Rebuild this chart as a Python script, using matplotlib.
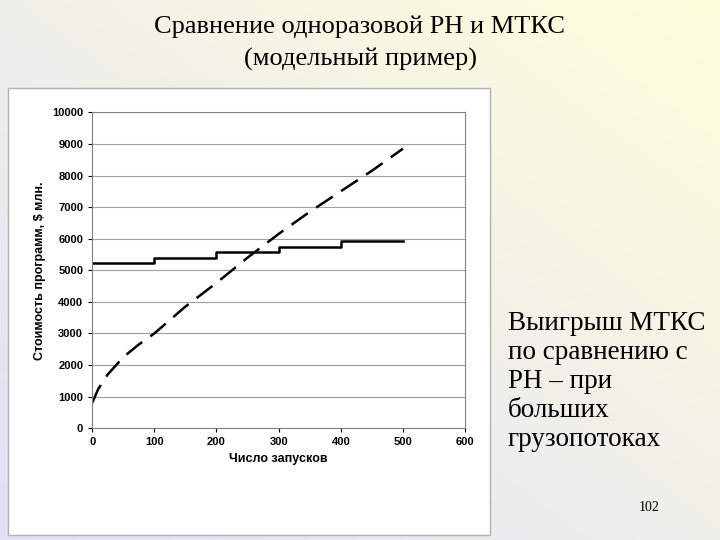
import numpy as np
import matplotlib.pyplot as plt
from matplotlib.patches import Rectangle

# step curve: reusable launch vehicle system (МТКС)
step_x = [0, 100, 100, 200, 200, 300, 300, 400, 400, 500]
step_y = [5220, 5220, 5400, 5400, 5580, 5580, 5750, 5750, 5930, 5930]
# dashed curve: expendable rocket (РН)
dash_x = [0, 10, 25, 50, 75, 100, 150, 200, 250, 300, 350, 400, 450, 500]
dash_y = [800, 1250, 1700, 2250, 2650, 3000, 3850, 4600, 5400, 6150, 6850, 7500, 8150, 8850]

fig = plt.figure(figsize=(7.2, 5.4), dpi=100)

# slide background gradient
bg = fig.add_axes([0, 0, 1, 1])
gx, gy = np.meshgrid(np.linspace(0, 1, 200), np.linspace(0, 1, 200))
t = np.clip((gx + (1 - gy)) / 2, 0, 1)[..., None]
c1 = np.array([0.88, 0.88, 0.97])
c2 = np.array([1.0, 1.0, 0.86])
bg.imshow(c1 * (1 - t) + c2 * t, extent=[0, 1, 0, 1], aspect='auto', origin='upper')
bg.set_xlim(0, 1); bg.set_ylim(0, 1)
bg.axis('off')
bg.add_patch(Rectangle((0.011, 0.009), 0.669, 0.828, facecolor='white',
                       edgecolor='#b0b0b0', lw=1))

fig.text(0.5, 0.972, 'Сравнение одноразовой РН и МТКС', ha='center', va='top',
         family='Liberation Serif', fontsize=19)
fig.text(0.5, 0.912, '(модельный пример)', ha='center', va='top',
         family='Liberation Serif', fontsize=19)
fig.text(0.705, 0.425, 'Выигрыш МТКС\nпо сравнению с\nРН – при\nбольших\nгрузопотоках',
         ha='left', va='top', family='Liberation Serif', fontsize=19.5, linespacing=1.22)
fig.text(0.887, 0.06, '102', ha='left', va='center', family='Liberation Serif', fontsize=10)

ax = fig.add_axes([0.128, 0.207, 0.518, 0.585])
ax.plot(step_x, step_y, color='black', lw=1.8)
ax.plot(dash_x, dash_y, color='black', lw=1.8, dashes=(8, 4))
ax.set_xlim(0, 600)
ax.set_ylim(0, 10000)
ax.set_xticks(range(0, 601, 100))
ax.set_yticks(range(0, 10001, 1000))
ax.grid(axis='y', color='#a0a0a0', lw=0.8)
ax.set_axisbelow(True)
for s in ax.spines.values():
    s.set_color('#808080')
ax.tick_params(labelsize=8, length=3)
for lab in ax.get_xticklabels() + ax.get_yticklabels():
    lab.set_fontweight('bold'); lab.set_family('Liberation Sans')
ax.set_xlabel('Число запусков', fontsize=9, fontweight='bold', family='Liberation Sans')
ax.set_ylabel('Стоимость программ, $ млн.', fontsize=9, fontweight='bold', family='Liberation Sans')

fig.savefig('out.png', dpi=100)
